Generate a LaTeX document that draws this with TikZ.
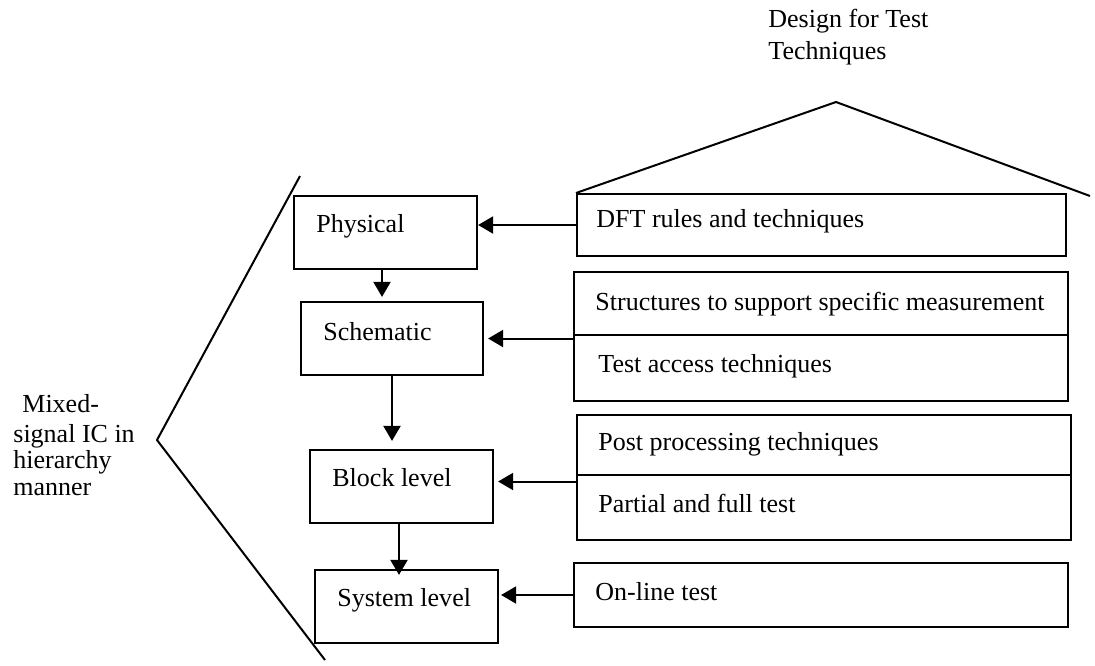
\documentclass[tikz,border=0pt]{standalone}
\usepackage{fontspec}
\setmainfont{Liberation Serif}
\usetikzlibrary{arrows.meta,calc}
\begin{document}
\begin{tikzpicture}[x=0.5pt,y=-0.5pt,
  box/.style 2 args={draw,line width=1.1pt,inner sep=0pt,minimum width=#1*0.5pt,minimum height=#2*0.5pt},
  txt/.style={anchor=base west,inner sep=0pt,font=\fontsize{13}{15}\selectfont},
  ln/.style={line width=1pt},
  arr/.style={line width=1pt,-{Triangle[length=7.5pt,width=8.5pt]}}]
\fill[white] (0,0) rectangle (1095,665);
\useasboundingbox (0,0) rectangle (1095,665);

% left hierarchy boxes
\node[box={183}{73}] (phys)  at (385.5,232.5) {};
\node[box={182}{73}] (schem) at (392,338.5) {};
\node[box={183}{73}] (block) at (401.5,486.5) {};
\node[box={183}{73}] (sys)   at (406.5,606.5) {};

% right technique boxes
\node[box={489}{62}]  (dft)    at (821.5,225) {};
\node[box={494}{129}] (struct) at (821,336.5) {};
\node[box={494}{125}] (post)   at (824,477.5) {};
\node[box={494}{64}]  (online) at (821,595) {};

% dividers
\draw[line width=1.1pt] ($(struct.west)+(0,-1.5)$) -- ($(struct.east)+(0,-1.5)$);
\draw[line width=1.1pt] ($(post.west)+(0,-2.5)$) -- ($(post.east)+(0,-2.5)$);

% roof
\coordinate (roofL) at (576,193);
\coordinate (apex)  at (836,102);
\coordinate (roofR) at (1090,196);
\draw[ln] (roofL) -- (apex) -- (roofR);

% chevron
\coordinate (chTop) at (300,176);
\coordinate (chTip) at (157,440);
\coordinate (chBot) at (325,660);
\draw[ln] (chTop) -- (chTip) -- (chBot);

% texts
\node[txt] (tPhys)   at (316,232) {Physical};
\node[txt] (tSchem)  at (323,340) {Schematic};
\node[txt] (tBlock)  at (332,486) {Block level};
\node[txt] (tSys)    at (337,606) {System level};
\node[txt] (tDft)    at (596,227) {DFT rules and techniques};
\node[txt] (tStruct) at (595,310) {Structures to support specific measurement};
\node[txt] (tAccess) at (598,372) {Test access techniques};
\node[txt] (tPost)   at (598,450) {Post processing techniques};
\node[txt] (tPart)   at (598,512) {Partial and full test};
\node[txt] (tOnline) at (595,600) {On-line test};
\node[txt] (title1)  at (768,27) {Design for Test};
\node[txt] (title2)  at (768,59) {Techniques};
\node[txt] (mix1)    at (22,412) {Mixed-};
\node[txt] (mix2)    at (13,442) {signal IC in};
\node[txt] (mix3)    at (13,468) {hierarchy};
\node[txt] (mix4)    at (13,495) {manner};

% vertical arrows
\coordinate (v1) at ($(phys.south)+(-3.5,0)$);
\coordinate (v3) at ($(block.south)+(-2.5,0)$);
\draw[arr,shorten >=2pt] (v1) -- (v1 |- schem.north);
\draw[arr,shorten >=4pt] (schem.south) -- (schem.south |- block.north);
\draw[arr,shorten >=-3pt] (v3) -- (v3 |- sys.north);

% horizontal arrows
\draw[arr] (dft.west) -- (dft.west -| phys.east);
\draw[arr,shorten >=2pt] (struct.west |- schem.east) -- (schem.east);
\coordinate (pa) at ($(post.west)+(0,4)$);
\draw[arr,shorten >=2pt] (pa) -- (pa -| block.east);
\draw[arr,shorten >=1pt] (online.west) -- (online.west -| sys.east);
\end{tikzpicture}
\end{document}
